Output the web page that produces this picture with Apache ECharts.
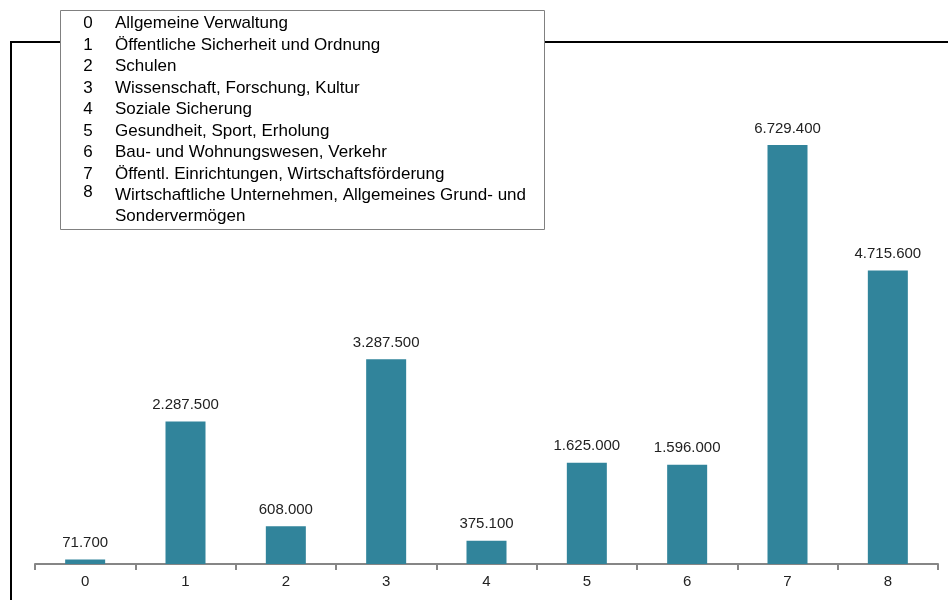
<!DOCTYPE html>
<html style="height: 100%">
<head>
	<meta charset="utf-8">
</head>
<body style="height: 100%; margin: 0; background: #fff">
	<div id="container" style="width: 948px; height: 600px"></div>
	<script type="text/javascript" src="https://cdn.jsdelivr.net/npm/echarts@6/dist/echarts.min.js"></script>
	<script type="text/javascript">
	// Kategorien (Achsenbeschriftung)
	var categories = ['0', '1', '2', '3', '4', '5', '6', '7', '8'];
	// Bezeichnungen in der Legende
	var names = [
		'Allgemeine Verwaltung',
		'Öffentliche Sicherheit und Ordnung',
		'Schulen',
		'Wissenschaft, Forschung, Kultur',
		'Soziale Sicherung',
		'Gesundheit, Sport, Erholung',
		'Bau- und Wohnungswesen, Verkehr',
		'Öffentl. Einrichtungen, Wirtschaftsförderung',
		'Wirtschaftliche Unternehmen, Allgemeines Grund- und\nSondervermögen'
	];
	// Werte
	var values = [71700, 2287500, 608000, 3287500, 375100, 1625000, 1596000, 6729400, 4715600];

	var dom = document.getElementById('container');
	var myChart = echarts.init(dom);

	// Zahl mit Punkt als Tausendertrennzeichen
	function fmt(v) {
		return String(v).replace(/\B(?=(\d{3})+(?!\d))/g, '.');
	}

	var legendFont = '17px "Liberation Sans", Arial';

	// Legendenkasten
	var legendItems = [];
	legendItems.push({
		type: 'rect',
		shape: { x: 60.5, y: 10.5, width: 484, height: 219 },
		style: { fill: '#fff', stroke: '#808080', lineWidth: 1 },
		z: 10
	});
	var rowY = 13;
	for (var i = 0; i < names.length; i++) {
		legendItems.push({
			type: 'text',
			x: 88, y: rowY + (i === 8 ? -3 : 0),
			style: { text: categories[i], font: legendFont, fill: '#000', align: 'center', lineHeight: 21 },
			z: 11
		});
		legendItems.push({
			type: 'text',
			x: 115, y: rowY,
			style: { text: names[i], font: legendFont, fill: '#000', lineHeight: 21 },
			z: 11
		});
		rowY += 21.5;
	}

	var option = {
		backgroundColor: '#fff',
		animation: false,
		grid: { left: 35, right: 10, top: 66, bottom: 36 },
		xAxis: {
			type: 'category',
			data: categories,
			axisLine: { lineStyle: { color: '#868686', width: 2 } },
			axisTick: { show: true, interval: 0, inside: false, length: 6, lineStyle: { color: '#868686', width: 2 } },
			axisLabel: { color: '#222', fontSize: 15, fontFamily: '"Liberation Sans", Arial', margin: 10 }
		},
		yAxis: {
			type: 'value',
			min: 0,
			max: 8000000,
			show: false,
			splitLine: { show: false }
		},
		series: [{
			type: 'bar',
			data: values,
			barWidth: 40,
			itemStyle: { color: '#31849b' },
			label: {
				show: true,
				position: 'top',
				distance: 9,
				color: '#222',
				fontSize: 15,
				fontFamily: '"Liberation Sans", Arial',
				formatter: function (p) { return fmt(p.value); }
			}
		}],
		graphic: [
			// Rahmen (oben und links)
			{ type: 'line', shape: { x1: 10, y1: 42, x2: 948, y2: 42 }, style: { stroke: '#000', lineWidth: 2 }, z: 5 },
			{ type: 'line', shape: { x1: 11, y1: 42, x2: 11, y2: 600 }, style: { stroke: '#000', lineWidth: 2 }, z: 5 }
		].concat(legendItems)
	};
	myChart.setOption(option, true);
	</script>
</body>
</html>
